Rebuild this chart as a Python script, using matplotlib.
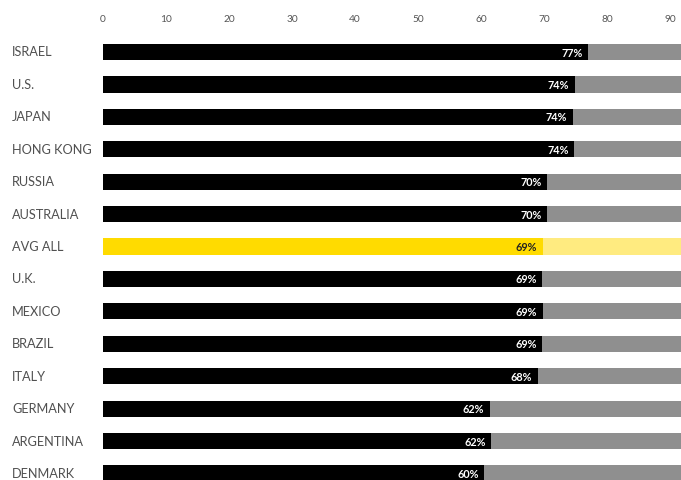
import matplotlib.pyplot as plt

plt.rcParams['font.family'] = ['Lato', 'DejaVu Sans']

countries = ["ISRAEL", "U.S.", "JAPAN", "HONG KONG", "RUSSIA", "AUSTRALIA", "AVG ALL",
             "U.K.", "MEXICO", "BRAZIL", "ITALY", "GERMANY", "ARGENTINA", "DENMARK"]
values = [77.0, 74.9, 74.6, 74.8, 70.5, 70.5, 69.8, 69.7, 69.8, 69.7, 69.0, 61.4, 61.6, 60.5]
labels = ["77%", "74%", "74%", "74%", "70%", "70%", "69%", "69%", "69%", "69%",
          "68%", "62%", "62%", "60%"]
highlight = "AVG ALL"
full = 100

row = 32.42  # px per row
fig = plt.figure(figsize=(6.81, 4.81), dpi=100)
ax = fig.add_axes([103 / 681, 0, 578 / 681, 1 - 36 / 481])

for i, (c, v, lab) in enumerate(zip(countries, values, labels)):
    if c == highlight:
        fg, bg, tc = "#ffdb00", "#ffeb80", "#222222"
    else:
        fg, bg, tc = "#000000", "#8f8f8f", "white"
    ax.barh(i, full, height=0.5, color=bg, linewidth=0)
    ax.barh(i, v, height=0.5, color=fg, linewidth=0)
    ax.text(v - 0.9, i, lab, ha="right", va="center", color=tc,
            fontsize=7.8, fontweight="bold")
    fig.text(12 / 681, 1 - (52.5 + i * row) / 481, c, ha="left", va="center",
             color="#505050", fontsize=9.2)

ax.set_xlim(0, 578 / 6.3)
ax.set_ylim(13 + 6.5 / row, -17 / row)
ax.set_xticks(range(0, 100, 10))
ax.xaxis.tick_top()
ax.tick_params(axis="x", length=0, pad=9, labelsize=7.3, labelcolor="#555555")
ax.set_yticks([])
for s in ax.spines.values():
    s.set_visible(False)

fig.savefig("out.png", dpi=100)
